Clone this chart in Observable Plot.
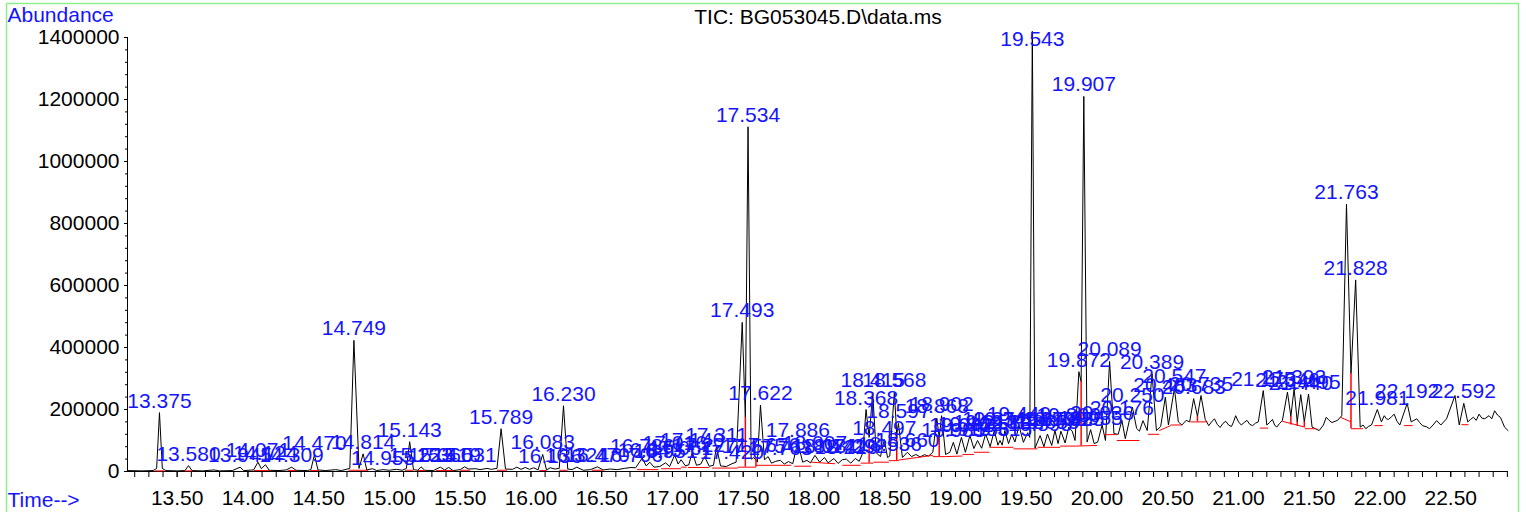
<!DOCTYPE html>
<html>
<head>
<meta charset="utf-8">
<script src="https://cdn.jsdelivr.net/npm/d3@7"></script>
<script src="https://cdn.jsdelivr.net/npm/@observablehq/plot@0.6"></script>
<style>
  html, body { margin: 0; padding: 0; background: #fff; }
  svg { display: block; }
</style>
</head>
<body>
<div id="chart"></div>
<script>
// ---- Data ----
const title = "TIC: BG053045.D\\data.ms";
const yTitle = "Abundance";
const xTitle = "Time-->";

// TIC trace: [retention time (min), abundance]
const tic = [
  [13.149,3000],[13.25,2000],[13.33,3000],[13.355,10000],[13.375,190000],[13.395,10000],[13.42,3000],
  [13.50,2000],[13.555,3000],[13.580,19000],[13.605,3000],[13.68,2000],[13.76,5000],[13.80,2000],
  [13.89,3000],[13.945,14000],[13.97,3000],[14.04,5000],[14.071,30000],[14.095,9000],[14.124,22000],
  [14.15,4000],[14.22,3000],[14.27,5000],[14.309,14000],[14.34,4000],[14.42,3000],[14.445,6000],
  [14.470,54000],[14.495,5000],[14.55,3000],[14.62,6000],[14.66,3000],[14.72,10000],[14.749,423000],
  [14.785,10000],[14.814,57000],[14.84,5000],[14.88,9000],[14.91,3000],[14.955,6000],[15.00,4000],
  [15.05,7000],[15.09,4000],[15.12,10000],[15.143,96000],[15.17,6000],[15.20,4000],[15.223,15000],
  [15.25,4000],[15.31,3000],[15.360,14000],[15.39,5000],[15.419,13000],[15.45,3000],[15.50,6000],
  [15.531,15000],[15.56,8000],[15.61,9000],[15.64,6000],[15.69,10000],[15.72,7000],[15.76,10000],
  [15.789,138000],[15.82,8000],[15.87,7000],[15.90,14000],[15.93,7000],[15.96,13000],[15.99,7000],
  [16.02,12000],[16.05,5000],[16.083,55000],[16.11,5000],[16.136,12000],[16.17,8000],[16.20,10000],
  [16.230,212000],[16.26,8000],[16.29,6000],[16.324,14000],[16.37,4000],[16.42,6000],[16.470,15000],
  [16.51,5000],[16.56,8000],[16.61,6000],[16.66,10000],[16.706,13000],[16.74,12000],[16.786,43000],
  [16.815,18000],[16.840,30000],[16.87,14000],[16.91,16000],[16.951,28000],[16.98,16000],[17.016,53000],
  [17.04,24000],[17.061,38000],[17.09,19000],[17.115,21000],[17.140,62000],[17.17,20000],[17.20,24000],
  [17.227,48000],[17.26,17000],[17.29,20000],[17.311,80000],[17.34,18000],[17.38,16000],[17.420,25000],
  [17.45,30000],[17.493,481000],[17.515,175000],[17.534,1112000],[17.556,40000],[17.575,45000],
  [17.60,30000],[17.622,214000],[17.65,38000],[17.676,48000],[17.70,27000],[17.73,33000],[17.763,36000],
  [17.79,24000],[17.82,32000],[17.85,25000],[17.886,95000],[17.92,30000],[17.95,36000],[17.975,28000],
  [18.007,52000],[18.04,30000],[18.074,45000],[18.10,28000],[18.141,42000],[18.17,26000],[18.20,38000],
  [18.229,40000],[18.26,27000],[18.292,42000],[18.32,33000],[18.345,60000],[18.368,200000],[18.39,110000],
  [18.415,255000],[18.44,60000],[18.47,48000],[18.497,103000],[18.52,45000],[18.536,50000],[18.568,255000],
  [18.585,120000],[18.597,155000],[18.625,45000],[18.660,62000],[18.69,48000],[18.72,55000],[18.75,47000],
  [18.78,54000],[18.81,50000],[18.84,62000],[18.868,172000],[18.885,110000],[18.902,180000],[18.93,55000],
  [18.96,62000],[18.985,94000],[19.01,56000],[19.042,110000],[19.07,62000],[19.102,116000],[19.13,74000],
  [19.156,100000],[19.185,75000],[19.213,121000],[19.245,80000],[19.274,132000],[19.30,85000],
  [19.315,100000],[19.33,85000],[19.349,132000],[19.375,90000],[19.398,120000],[19.42,95000],
  [19.449,148000],[19.48,94000],[19.51,125000],[19.525,110000],[19.543,1420000],[19.562,75000],
  [19.598,116000],[19.625,80000],[19.650,121000],[19.68,84000],[19.703,132000],[19.725,90000],
  [19.745,130000],[19.775,92000],[19.800,143000],[19.825,130000],[19.845,100000],[19.872,322000],
  [19.888,290000],[19.907,1210000],[19.93,95000],[19.955,135000],[19.98,90000],[20.005,95000],
  [20.036,150000],[20.06,100000],[20.089,355000],[20.12,122000],[20.15,120000],[20.176,165000],
  [20.20,106000],[20.250,208000],[20.28,139000],[20.30,130000],[20.325,164000],[20.355,132000],
  [20.389,315000],[20.42,132000],[20.45,145000],[20.483,240000],[20.505,150000],[20.547,268000],
  [20.575,160000],[20.60,150000],[20.63,165000],[20.655,160000],[20.683,235000],[20.71,178000],
  [20.735,245000],[20.765,168000],[20.79,148000],[20.81,160000],[20.83,170000],[20.85,152000],
  [20.87,142000],[20.89,155000],[20.91,162000],[20.93,150000],[20.95,145000],[20.965,160000],
  [20.98,180000],[21.00,160000],[21.02,150000],[21.04,158000],[21.06,165000],[21.08,152000],
  [21.10,148000],[21.12,156000],[21.14,160000],[21.175,261000],[21.20,150000],[21.22,158000],
  [21.24,168000],[21.255,150000],[21.27,143000],[21.29,155000],[21.31,164000],[21.346,256000],
  [21.37,178000],[21.393,267000],[21.415,160000],[21.440,248000],[21.465,160000],[21.495,250000],
  [21.52,143000],[21.545,138000],[21.57,132000],[21.60,150000],[21.62,175000],[21.64,165000],
  [21.66,158000],[21.70,165000],[21.73,180000],[21.763,862000],[21.795,316000],[21.828,618000],
  [21.86,143000],[21.88,150000],[21.90,138000],[21.92,146000],[21.94,150000],[21.981,200000],
  [22.01,160000],[22.03,180000],[22.045,170000],[22.06,168000],[22.08,176000],[22.10,185000],
  [22.12,162000],[22.14,150000],[22.192,220000],[22.22,160000],[22.24,165000],[22.26,170000],
  [22.28,158000],[22.30,148000],[22.33,144000],[22.35,138000],[22.375,150000],[22.40,164000],
  [22.43,150000],[22.45,160000],[22.47,170000],[22.530,245000],[22.56,150000],[22.592,220000],
  [22.62,160000],[22.64,168000],[22.66,175000],[22.68,165000],[22.70,185000],[22.72,172000],
  [22.74,170000],[22.77,180000],[22.79,170000],[22.81,196000],[22.83,182000],[22.85,175000],
  [22.865,160000],[22.88,143000],[22.905,132000]
];

// Peak labels (retention time text) and the abundance at which each label sits
const peakLabels = [
  "13.375","13.580","13.945","14.071","14.124","14.309","14.470","14.749","14.814","14.955",
  "15.143","15.223","15.360","15.419","15.531","15.789","16.083","16.136","16.230","16.324",
  "16.470","16.706","16.786","16.840","16.951","17.016","17.061","17.140","17.227","17.311",
  "17.420","17.493","17.534","17.575","17.622","17.676","17.763","17.886","18.007","18.074",
  "18.141","18.229","18.292","18.368","18.415","18.497","18.536","18.568","18.597","18.660",
  "18.868","18.902","18.985","19.042","19.102","19.156","19.213","19.274","19.315","19.349",
  "19.398","19.449","19.543","19.598","19.650","19.703","19.745","19.800","19.825","19.872",
  "19.907","19.955","20.036","20.089","20.176","20.250","20.389","20.483","20.547","20.683",
  "20.735","21.175","21.346","21.393","21.440","21.495","21.763","21.828","21.981","22.192",
  "22.592"
];
const peakHeights = [
  190000,19000,14000,30000,22000,14000,54000,423000,57000,6000,
  96000,15000,14000,13000,15000,138000,55000,12000,212000,14000,
  15000,13000,43000,30000,28000,53000,38000,62000,48000,80000,
  25000,481000,1112000,45000,214000,48000,36000,95000,52000,45000,
  42000,40000,42000,200000,255000,103000,50000,255000,155000,62000,
  172000,180000,94000,110000,116000,100000,121000,132000,100000,132000,
  120000,148000,1355000,116000,121000,132000,130000,143000,130000,322000,
  1210000,135000,150000,355000,165000,208000,315000,240000,268000,235000,
  245000,261000,256000,267000,248000,250000,862000,618000,200000,220000,
  220000
];

// Integration baselines (red): [t1, v1, t2, v2]
const baselines = [
  [13.34,2000,13.41,2000],[13.55,2000,13.61,2000],[14.04,3000,14.15,3000],[14.28,3000,14.34,3000],
  [14.44,3000,14.50,3000],[14.71,4000,14.85,4000],[15.11,4000,15.17,4000],[15.20,3000,15.25,3000],
  [15.33,3000,15.45,3000],[15.50,4000,15.57,4000],[15.76,4000,15.83,4000],[16.06,3000,16.11,3000],
  [16.20,4000,16.26,4000],[16.43,4000,16.51,4000],[16.75,6000,16.90,6000],[16.92,9000,17.06,9000],
  [17.06,14000,17.10,14000],[17.11,13000,17.26,13000],[17.28,11000,17.46,11000],[17.46,14000,17.59,14000],
  [17.59,20000,17.70,20000],[17.70,20000,17.84,20000],[17.86,17000,17.98,17000],[17.98,30000,18.15,25000],
  [18.20,20000,18.33,20000],[18.33,27000,18.42,27000],[18.42,30000,18.53,30000],[18.53,35000,18.60,35000],
  [18.60,37000,18.84,52000],[18.84,48000,18.93,48000],[18.93,48000,19.05,50000],[19.05,55000,19.13,55000],
  [19.13,62000,19.24,62000],[19.24,78000,19.41,78000],[19.41,73000,19.58,73000],[19.58,78000,19.74,78000],
  [19.74,82000,19.85,82000],[19.85,82000,20.00,84000],[20.05,119000,20.14,119000],[20.14,100000,20.30,100000],
  [20.36,120000,20.44,120000],[20.44,132000,20.52,148000],[20.52,150000,20.60,150000],[20.66,160000,20.78,160000],
  [21.15,140000,21.21,140000],[21.31,162000,21.47,143000],[21.47,138000,21.55,138000],[21.72,175000,21.795,160000],
  [21.795,138000,21.88,138000],[21.96,148000,22.02,148000],[22.17,148000,22.23,148000],[22.575,151000,22.625,151000]
];
// Drop lines between co-eluting peaks: [t, top, bottom]
const drops = [
  [17.515,175000,14000],[17.59,42000,14000],[18.39,100000,27000],[18.585,120000,35000],
  [18.885,110000,48000],[19.888,290000,82000],[20.71,178000,160000],[21.37,178000,150000],
  [21.415,160000,146000],[21.465,160000,143000],[21.795,316000,138000]
];

// Axis ticks
const xMajorTicks = [13.5,14,14.5,15,15.5,16,16.5,17,17.5,18,18.5,19,19.5,20,20.5,21,21.5,22,22.5];
const xMajorLabels = ["13.50","14.00","14.50","15.00","15.50","16.00","16.50","17.00","17.50","18.00","18.50","19.00","19.50","20.00","20.50","21.00","21.50","22.00","22.50"];
const xMinorTicks = d3.range(132, 230).map(i => i / 10);
const yMajorTicks = [0,200000,400000,600000,800000,1000000,1200000,1400000];
const yMinorTicks = d3.range(0, 1400001, 40000);

// ---- Build ----
const traceData = tic.map(([t, v]) => ({t, v}));
const labelData = peakLabels.map((s, i) => ({t: +s, v: peakHeights[i], s}));
const baseData = baselines.map(([t1, v1, t2, v2]) => ({t1, v1, t2, v2}));
const dropData = drops.map(([t, top, bottom]) => ({t, top, bottom}));

const FONT = "'Liberation Sans', Arial, Helvetica, sans-serif";
const BLUE = "#1414ff";
const FS = 21;
const xDomain = [13.149, 22.908];

const chart = Plot.plot({
  width: 1526,
  height: 512,
  marginLeft: 127,
  marginRight: 18,
  marginTop: 37,
  marginBottom: 41,
  style: {fontFamily: FONT, fontSize: FS + "px", background: "#fff", color: "#000", overflow: "visible"},
  x: {domain: xDomain},
  y: {domain: [0, 1400000]},
  marks: [
    Plot.axisX({ticks: xMinorTicks, tickSize: 6, tickFormat: () => "", label: null, strokeWidth: 1}),
    Plot.axisX({ticks: xMajorTicks, tickSize: 6, tickPadding: 13, label: null, fontSize: FS,
      tickFormat: d => xMajorLabels[xMajorTicks.indexOf(d)]}),
    Plot.axisY({ticks: yMinorTicks, tickSize: 2, tickFormat: () => "", label: null}),
    Plot.axisY({ticks: yMajorTicks, tickSize: 3, tickPadding: 5, label: null, fontSize: FS,
      tickFormat: d => String(d)}),
    Plot.ruleY([0], {stroke: "#000"}),
    Plot.ruleX([xDomain[0]], {y1: 0, y2: 1400000, stroke: "#000"}),
    Plot.line(traceData, {x: "t", y: "v", stroke: "#000", strokeWidth: 1}),
    Plot.link(baseData, {x1: "t1", y1: "v1", x2: "t2", y2: "v2", stroke: "#ff0000", strokeWidth: 1}),
    Plot.ruleX(dropData, {x: "t", y1: "bottom", y2: "top", stroke: "#ff0000", strokeWidth: 1.5}),
    Plot.text(labelData, {x: "t", y: "v", text: "s", dy: -5, lineAnchor: "bottom", fill: BLUE, fontSize: FS}),
    Plot.text([yTitle], {frameAnchor: "top-left", dx: -120, dy: -22, textAnchor: "start", lineAnchor: "middle", fill: BLUE, fontSize: FS}),
    Plot.text([xTitle], {frameAnchor: "bottom-left", dx: -120, dy: 29, textAnchor: "start", lineAnchor: "middle", fill: BLUE, fontSize: FS}),
    Plot.text([title], {frameAnchor: "top", dx: 0, dy: -20, textAnchor: "middle", lineAnchor: "middle", fill: "#000", fontSize: FS})
  ]
});

// light-green outer border
d3.select(chart).insert("rect", ":first-child")
  .attr("x", 6.5).attr("y", 3.5).attr("width", 1512).attr("height", 530)
  .attr("fill", "none").attr("stroke", "#8cef8c").attr("stroke-width", 1.5);

document.getElementById("chart").appendChild(chart);
</script>
</body>
</html>
